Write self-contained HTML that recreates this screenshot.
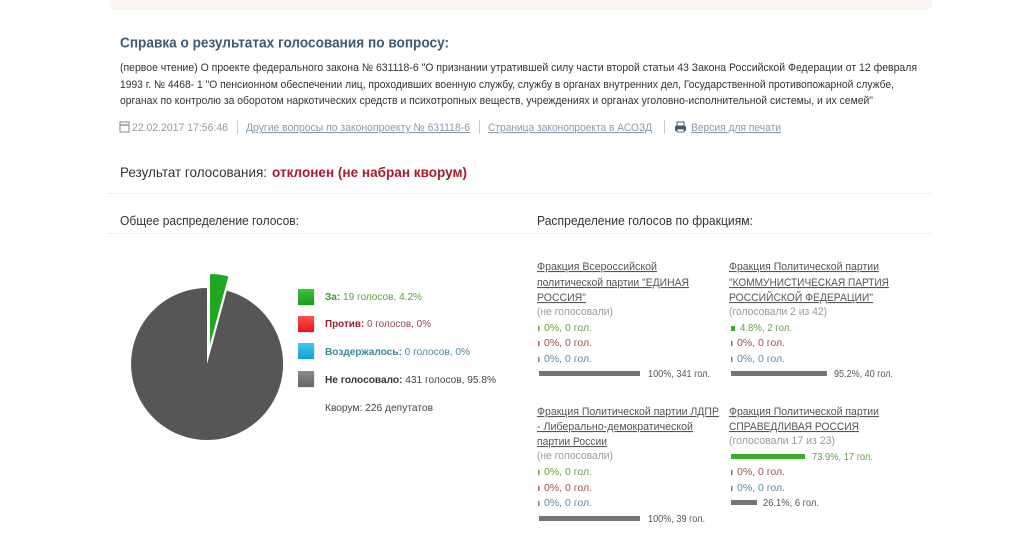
<!DOCTYPE html>
<html><head><meta charset="utf-8"><style>
html,body{margin:0;padding:0;background:#fff;width:1024px;height:535px;overflow:hidden}
svg{display:block}
text{font-family:"Liberation Sans","Noto Sans CJK SC",sans-serif}
.u{text-decoration:underline}
</style></head><body>
<svg width="1024" height="535" viewBox="0 0 1024 535" xmlns="http://www.w3.org/2000/svg">
<defs>
<linearGradient id="gG" x1="0" y1="0" x2="0" y2="1"><stop offset="0" stop-color="#3cc43c"/><stop offset="1" stop-color="#1a9a1a"/></linearGradient>
<linearGradient id="gR" x1="0" y1="0" x2="0" y2="1"><stop offset="0" stop-color="#ff5050"/><stop offset="1" stop-color="#e01818"/></linearGradient>
<linearGradient id="gB" x1="0" y1="0" x2="0" y2="1"><stop offset="0" stop-color="#40c8f0"/><stop offset="1" stop-color="#10a0d8"/></linearGradient>
<linearGradient id="gA" x1="0" y1="0" x2="0" y2="1"><stop offset="0" stop-color="#8a8a8a"/><stop offset="1" stop-color="#666"/></linearGradient>
</defs>
<rect x="0" y="0" width="1024" height="535" fill="#fff"/>
<rect x="110" y="-6" width="822" height="16" rx="6" fill="#fcf3f3"/>

<!-- Title -->
<text x="120" y="47.5" font-size="15" font-weight="bold" fill="#3d5a73" textLength="329" lengthAdjust="spacingAndGlyphs">Справка о результатах голосования по вопросу:</text>

<text x="120" y="71" font-size="11" fill="#333" textLength="797" lengthAdjust="spacingAndGlyphs">(первое чтение) О проекте федерального закона № 631118-6 "О признании утратившей силу части второй статьи 43 Закона Российской Федерации от 12 февраля</text>
<text x="120" y="88" font-size="11" fill="#333" textLength="774" lengthAdjust="spacingAndGlyphs">1993 г. № 4468- 1 "О пенсионном обеспечении лиц, проходивших военную службу, службу в органах внутренних дел, Государственной противопожарной службе,</text>
<text x="120" y="104" font-size="11" fill="#333" textLength="753" lengthAdjust="spacingAndGlyphs">органах по контролю за оборотом наркотических средств и психотропных веществ, учреждениях и органах уголовно-исполнительной системы, и их семей"</text>

<!-- date row -->
<rect x="120" y="122" width="9" height="10" fill="none" stroke="#999" stroke-width="1.2"/>
<line x1="120" y1="125" x2="129" y2="125" stroke="#999" stroke-width="1.5"/>
<text x="132" y="131" font-size="11" fill="#9a9a9a" textLength="96" lengthAdjust="spacingAndGlyphs">22.02.2017 17:56:46</text>
<line x1="237.5" y1="120" x2="237.5" y2="134" stroke="#ccc"/>
<text x="246" y="131" font-size="11" fill="#8a9aae" class="u" textLength="224" lengthAdjust="spacingAndGlyphs">Другие вопросы по законопроекту № 631118-6</text>
<line x1="479.5" y1="120" x2="479.5" y2="134" stroke="#ccc"/>
<text x="488" y="131" font-size="11" fill="#8a9aae" class="u" textLength="164" lengthAdjust="spacingAndGlyphs">Страница законопроекта в АСОЗД</text>
<line x1="664.5" y1="120" x2="664.5" y2="134" stroke="#ccc"/>
<rect x="677" y="122" width="7" height="4" fill="none" stroke="#456" stroke-width="1"/>
<rect x="675" y="126" width="11" height="5" rx="1" fill="#4a5a6a"/>
<rect x="677" y="129" width="7" height="3" fill="#fff" stroke="#456" stroke-width="0.8"/>
<text x="691" y="131" font-size="11" fill="#8a9aae" class="u" textLength="90" lengthAdjust="spacingAndGlyphs">Версия для печати</text>

<!-- result -->
<text x="120" y="177" font-size="14" fill="#333" textLength="147" lengthAdjust="spacingAndGlyphs">Результат голосования:</text>
<text x="272" y="177" font-size="14" font-weight="bold" fill="#a31d2c" textLength="195" lengthAdjust="spacingAndGlyphs">отклонен (не набран кворум)</text>
<line x1="107" y1="193.5" x2="932" y2="193.5" stroke="#f0f0f0"/>

<text x="120" y="225" font-size="12.5" fill="#333" textLength="179" lengthAdjust="spacingAndGlyphs">Общее распределение голосов:</text>
<text x="537" y="225" font-size="12.5" fill="#333" textLength="216" lengthAdjust="spacingAndGlyphs">Распределение голосов по фракциям:</text>
<line x1="107" y1="233.5" x2="932" y2="233.5" stroke="#f0f0f0"/>

<!-- pie -->
<path d="M207,364 L226.8,290.6 A76,76 0 1,1 207,288 Z" fill="#565656"/>
<path d="M209,352 L209,273 A79,79 0 0,1 229.6,275.7 Z" fill="#1fa81f" stroke="#fff" stroke-width="2" stroke-linejoin="miter"/>

<!-- legend -->
<rect x="299" y="290" width="16" height="16" fill="#ddd" opacity="0.6"/>
<rect x="298" y="289" width="16" height="16" fill="url(#gG)"/>
<rect x="299" y="317" width="16" height="16" fill="#ddd" opacity="0.6"/>
<rect x="298" y="316" width="16" height="16" fill="url(#gR)"/>
<rect x="299" y="344" width="16" height="16" fill="#ddd" opacity="0.6"/>
<rect x="298" y="343" width="16" height="16" fill="url(#gB)"/>
<rect x="299" y="372" width="16" height="16" fill="#ddd" opacity="0.6"/>
<rect x="298" y="371" width="16" height="16" fill="url(#gA)"/>

<text x="325" y="300" font-size="10.5" textLength="97" lengthAdjust="spacingAndGlyphs"><tspan font-weight="bold" fill="#3e9a2a">За:</tspan><tspan fill="#5aa040"> 19 голосов, 4.2%</tspan></text>
<text x="325" y="327" font-size="10.5" textLength="106" lengthAdjust="spacingAndGlyphs"><tspan font-weight="bold" fill="#9e1e2c">Против:</tspan><tspan fill="#8a4a50"> 0 голосов, 0%</tspan></text>
<text x="325" y="355" font-size="10.5" textLength="145" lengthAdjust="spacingAndGlyphs"><tspan font-weight="bold" fill="#3a8898">Воздержалось:</tspan><tspan fill="#4a8aa0"> 0 голосов, 0%</tspan></text>
<text x="325" y="383" font-size="10.5" textLength="171" lengthAdjust="spacingAndGlyphs"><tspan font-weight="bold" fill="#333">Не голосовало:</tspan><tspan fill="#444"> 431 голосов, 95.8%</tspan></text>
<text x="325" y="411" font-size="10.5" fill="#444" textLength="108" lengthAdjust="spacingAndGlyphs">Кворум: 226 депутатов</text>

<!-- Faction 1 -->
<g font-size="11">
<text x="537" y="270" fill="#555" class="u" textLength="120" lengthAdjust="spacingAndGlyphs">Фракция Всероссийской</text>
<text x="537" y="286" fill="#555" class="u" textLength="152" lengthAdjust="spacingAndGlyphs">политической партии "ЕДИНАЯ</text>
<text x="537" y="301" fill="#555" class="u" textLength="49" lengthAdjust="spacingAndGlyphs">РОССИЯ"</text>
<text x="537" y="315" fill="#9a9a9a" textLength="76" lengthAdjust="spacingAndGlyphs">(не голосовали)</text>
</g>
<g font-size="10">
<rect x="538" y="326" width="1.5" height="5" fill="#6aa84f"/>
<text x="544" y="331" fill="#6a9e4a" textLength="48" lengthAdjust="spacingAndGlyphs">0%, 0 гол.</text>
<rect x="538" y="341" width="1.5" height="5" fill="#b06060"/>
<text x="544" y="346" fill="#a05050" textLength="48" lengthAdjust="spacingAndGlyphs">0%, 0 гол.</text>
<rect x="538" y="357" width="1.5" height="5" fill="#5a8aa8"/>
<text x="544" y="362" fill="#5a8aa8" textLength="48" lengthAdjust="spacingAndGlyphs">0%, 0 гол.</text>
<rect x="539" y="371" width="101" height="5" fill="#757575"/>
<text x="648" y="377" fill="#555" textLength="62" lengthAdjust="spacingAndGlyphs">100%, 341 гол.</text>
</g>

<!-- Faction 2 -->
<g font-size="11">
<text x="729" y="270" fill="#555" class="u" textLength="150" lengthAdjust="spacingAndGlyphs">Фракция Политической партии</text>
<text x="729" y="286" fill="#555" class="u" textLength="160" lengthAdjust="spacingAndGlyphs">"КОММУНИСТИЧЕСКАЯ ПАРТИЯ</text>
<text x="729" y="301" fill="#555" class="u" textLength="144" lengthAdjust="spacingAndGlyphs">РОССИЙСКОЙ ФЕДЕРАЦИИ"</text>
<text x="729" y="315" fill="#9a9a9a" textLength="98" lengthAdjust="spacingAndGlyphs">(голосовали 2 из 42)</text>
</g>
<g font-size="10">
<rect x="731" y="326" width="4" height="5" fill="#3aaa2a"/>
<text x="740" y="331" fill="#6a9e4a" textLength="52" lengthAdjust="spacingAndGlyphs">4.8%, 2 гол.</text>
<rect x="731" y="341" width="1.5" height="5" fill="#b06060"/>
<text x="737" y="346" fill="#a05050" textLength="48" lengthAdjust="spacingAndGlyphs">0%, 0 гол.</text>
<rect x="731" y="357" width="1.5" height="5" fill="#5a8aa8"/>
<text x="737" y="362" fill="#5a8aa8" textLength="48" lengthAdjust="spacingAndGlyphs">0%, 0 гол.</text>
<rect x="731" y="371" width="96" height="5" fill="#757575"/>
<text x="834" y="377" fill="#555" textLength="59" lengthAdjust="spacingAndGlyphs">95.2%, 40 гол.</text>
</g>

<!-- Faction 3 -->
<g font-size="11">
<text x="537" y="415" fill="#555" class="u" textLength="182" lengthAdjust="spacingAndGlyphs">Фракция Политической партии ЛДПР</text>
<text x="537" y="430" fill="#555" class="u" textLength="156" lengthAdjust="spacingAndGlyphs">- Либерально-демократической</text>
<text x="537" y="445" fill="#555" class="u" textLength="70" lengthAdjust="spacingAndGlyphs">партии России</text>
<text x="537" y="459" fill="#9a9a9a" textLength="76" lengthAdjust="spacingAndGlyphs">(не голосовали)</text>
</g>
<g font-size="10">
<rect x="538" y="470" width="1.5" height="5" fill="#6aa84f"/>
<text x="544" y="475" fill="#6a9e4a" textLength="48" lengthAdjust="spacingAndGlyphs">0%, 0 гол.</text>
<rect x="538" y="486" width="1.5" height="5" fill="#b06060"/>
<text x="544" y="491" fill="#a05050" textLength="48" lengthAdjust="spacingAndGlyphs">0%, 0 гол.</text>
<rect x="538" y="501" width="1.5" height="5" fill="#5a8aa8"/>
<text x="544" y="506" fill="#5a8aa8" textLength="48" lengthAdjust="spacingAndGlyphs">0%, 0 гол.</text>
<rect x="539" y="516" width="101" height="5" fill="#757575"/>
<text x="648" y="522" fill="#555" textLength="57" lengthAdjust="spacingAndGlyphs">100%, 39 гол.</text>
</g>

<!-- Faction 4 -->
<g font-size="11">
<text x="729" y="415" fill="#555" class="u" textLength="150" lengthAdjust="spacingAndGlyphs">Фракция Политической партии</text>
<text x="729" y="430" fill="#555" class="u" textLength="130" lengthAdjust="spacingAndGlyphs">СПРАВЕДЛИВАЯ РОССИЯ</text>
<text x="729" y="444" fill="#9a9a9a" textLength="106" lengthAdjust="spacingAndGlyphs">(голосовали 17 из 23)</text>
</g>
<g font-size="10">
<rect x="731" y="454" width="74" height="5" fill="#36b02a"/>
<text x="812" y="460" fill="#6a9e4a" textLength="61" lengthAdjust="spacingAndGlyphs">73.9%, 17 гол.</text>
<rect x="731" y="470" width="1.5" height="5" fill="#b06060"/>
<text x="737" y="475" fill="#a05050" textLength="48" lengthAdjust="spacingAndGlyphs">0%, 0 гол.</text>
<rect x="731" y="486" width="1.5" height="5" fill="#5a8aa8"/>
<text x="737" y="491" fill="#5a8aa8" textLength="48" lengthAdjust="spacingAndGlyphs">0%, 0 гол.</text>
<rect x="731" y="500" width="26" height="5" fill="#757575"/>
<text x="763" y="506" fill="#555" textLength="56" lengthAdjust="spacingAndGlyphs">26.1%, 6 гол.</text>
</g>
</svg>
</body></html>
